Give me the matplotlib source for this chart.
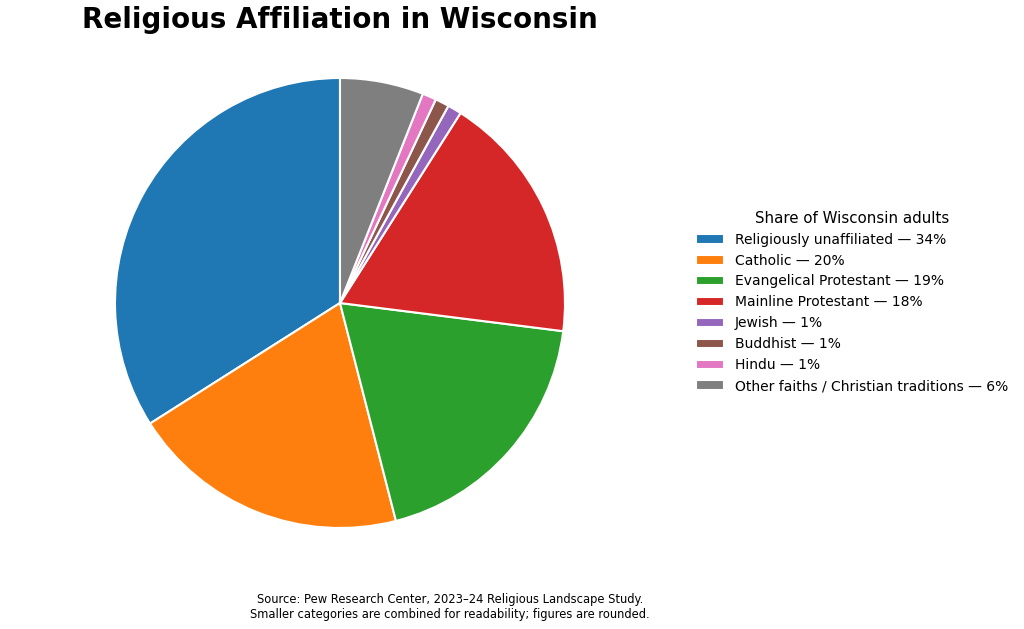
import matplotlib
matplotlib.use('Agg')
import matplotlib.pyplot as plt

# Pew RLS 2023-24, Wisconsin
categories = ['Religiously unaffiliated', 'Catholic', 'Evangelical Protestant',
              'Mainline Protestant', 'Jewish', 'Buddhist', 'Hindu',
              'Other faiths / Christian traditions']
shares = [34, 20, 19, 18, 1, 1, 1, 6]
colors = ['#1f77b4', '#ff7f0e', '#2ca02c', '#d62728',
          '#9467bd', '#8c564b', '#e377c2', '#7f7f7f']

fig = plt.figure(figsize=(10.24, 6.29), dpi=100)
ax = fig.add_axes([115/1024, 101/629, 450/1024, 450/629])

wedges, _ = ax.pie(shares, colors=colors, startangle=90, counterclock=True,
                   radius=1.25, wedgeprops=dict(edgecolor='white', linewidth=1.5))
ax.set_aspect('equal')

labels = ['{} \u2014 {}%'.format(c, s) for c, s in zip(categories, shares)]
fig.legend(wedges, labels, title='Share of Wisconsin adults', loc='center left',
           bbox_to_anchor=(0.6675, 0.52), frameon=False, fontsize=10,
           title_fontsize=10.8)

fig.text(340/1024, 1 - 20/629, 'Religious Affiliation in Wisconsin', ha='center',
         va='center', fontsize=20, fontweight='bold')
fig.text(450/1024, 1 - 607/629,
         'Source: Pew Research Center, 2023\u201324 Religious Landscape Study.\n'
         'Smaller categories are combined for readability; figures are rounded.',
         ha='center', va='center', fontsize=8.3)

fig.savefig('out.png', dpi=100)
